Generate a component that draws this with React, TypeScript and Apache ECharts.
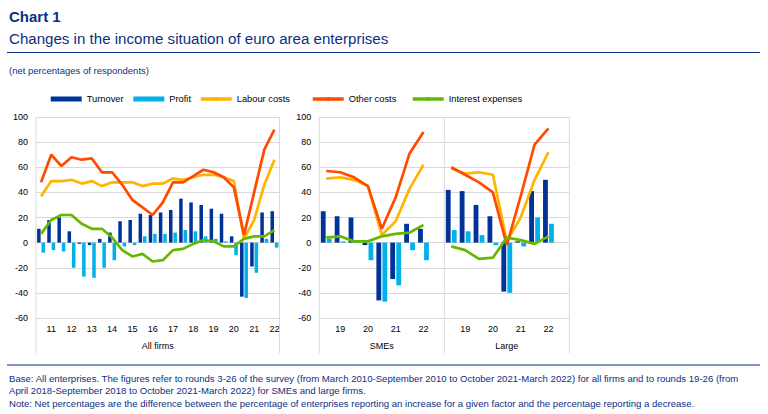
import React, { useEffect, useRef } from 'react';
import * as echarts from 'echarts';

// ---------- data ----------
const seriesNames = ['Turnover', 'Profit', 'Labour costs', 'Other costs', 'Interest expenses'];

// All firms: rounds 3-26
const allFirmsTicks = ['', '11', '', '12', '', '13', '', '14', '', '15', '', '16', '', '17', '', '18', '', '19', '', '20', '', '21', '', '22'];
const allTurnover = [11, 18, 20, 9, -1, -2, 3, 8, 17, 18, 23, 22, 24, 26, 35, 32, 30, 27, 23, 5, -43, -19, 24, 25];
const allProfit = [-8, -6, -7, -20, -27, -28, -20, -14, -3, -2, 5, 7, 7, 8, 10, 9, 5, 3, 1, -10, -44, -24, 3, -4];
const allLabour = [37, 49, 49, 50, 47, 49, 45, 48, 48, 48, 45, 47, 47, 51, 50, 52, 54, 54, 52, 49, 3, 18, 46, 66];
const allOther = [48, 70, 61, 68, 66, 67, 56, 56, 46, 34, 28, 22, 32, 48, 48, 53, 58, 56, 52, 44, 6, 40, 74, 90];
const allInterest = [7, 18, 22, 22, 15, 11, 11, 4, -6, -11, -9, -15, -14, -6, -5, -1, 2, 1, -3, -3, 3, 5, 5, 10];

// SMEs: rounds 19-26 (plus one empty slot)
const smeTicks = ['', '19', '', '20', '', '21', '', '22', ''];
const smeTurnover = [25, 21, 20, -2, -46, -29, 15, 11];
const smeProfit = [3, 1, 1, -14, -47, -34, -6, -14];
const smeLabour = [51, 52, 50, 45, 6, 17, 43, 62];
const smeOther = [57, 56, 52, 45, 11, 36, 71, 88];
const smeInterest = [4, 5, 1, 1, 5, 7, 8, 14];

// Large firms: rounds 19-26 (plus one empty slot)
const largeTicks = ['', '19', '', '20', '', '21', '', '22', ''];
const largeTurnover = [42, 41, 30, 21, -39, 1, 41, 50];
const largeProfit = [10, 9, 6, -2, -40, -3, 20, 15];
const largeLabour = [59, 55, 56, 54, 1, 20, 50, 72];
const largeOther = [60, 54, 48, 40, -2, 37, 78, 91];
const largeInterest = [-3, -6, -13, -12, 4, 2, -1, 5];

const panelNames = ['All firms', 'SMEs', 'Large'];
const yTicks = { min: -60, max: 100, interval: 20 };

// ---------- style ----------
const COLORS: Record<string, string> = {
  Turnover: '#003299',
  Profit: '#00b1ea',
  'Labour costs': '#ffb400',
  'Other costs': '#ff4b00',
  'Interest expenses': '#65b800',
};
const NAVY = '#0c2f82';
const GRID_COLOR = '#d9d9d9';
const FONT = '"Liberation Sans", Arial, sans-serif';

const PLOT_TOP = 117;
const PLOT_H = 201;
const panels = [
  { left: 36, width: 243.5 },
  { left: 319.3, width: 125 },
  { left: 444.3, width: 125 },
];

export default function App() {
  const ref = useRef<HTMLDivElement>(null);

  useEffect(() => {
    const chart = echarts.init(ref.current!, null, { renderer: 'svg' });

    const ticks = [allFirmsTicks, smeTicks, largeTicks];
    const data = [
      [allTurnover, allProfit, allLabour, allOther, allInterest],
      [smeTurnover, smeProfit, smeLabour, smeOther, smeInterest],
      [largeTurnover, largeProfit, largeLabour, largeOther, largeInterest],
    ];

    const grid = panels.map((p) => ({ left: p.left, top: PLOT_TOP, width: p.width, height: PLOT_H, containLabel: false }));

    const xAxis = panels.map((_, i) => ({
      type: 'category',
      gridIndex: i,
      data: ticks[i],
      name: panelNames[i],
      nameLocation: 'middle',
      nameGap: 23,
      nameTextStyle: { fontSize: 9, color: '#000', fontFamily: FONT },
      axisLine: { show: false, onZero: false },
      axisTick: { show: false },
      axisLabel: { interval: 0, fontSize: 9, color: '#000', margin: 6, fontFamily: FONT },
      splitLine: { show: false },
    }));

    const yAxis = panels.map((_, i) => ({
      type: 'value',
      gridIndex: i,
      min: yTicks.min,
      max: yTicks.max,
      interval: yTicks.interval,
      axisLine: { show: false },
      axisTick: { show: false },
      axisLabel: { show: i < 2, fontSize: 9, color: '#000', margin: 8, fontFamily: FONT },
      splitLine: { show: true, lineStyle: { color: GRID_COLOR, width: 1 } },
    }));

    const series: any[] = [];
    data.forEach((set, gi) => {
      set.forEach((values, si) => {
        const name = seriesNames[si];
        if (si < 2) {
          series.push({
            type: 'bar',
            name,
            xAxisIndex: gi,
            yAxisIndex: gi,
            data: values,
            itemStyle: { color: COLORS[name] },
            barCategoryGap: '22%',
            barGap: '25%',
            z: 2,
          });
        } else {
          series.push({
            type: 'line',
            name,
            xAxisIndex: gi,
            yAxisIndex: gi,
            data: values,
            symbol: 'none',
            lineStyle: { color: COLORS[name], width: 2.7 },
            itemStyle: { color: COLORS[name] },
            z: 3 + si,
          });
        }
      });
    });

    const legendPos = [50.7, 133.3, 199, 311, 411];
    const legend = seriesNames.map((name, i) => ({
      data: [name],
      left: legendPos[i],
      top: 94.5,
      padding: 0,
      itemWidth: 31,
      itemHeight: 5,
      icon: i < 2 ? 'rect' : undefined,
      lineStyle: { width: 3.5 },
      textStyle: { fontSize: 9.3, color: '#000', fontFamily: FONT },
      selectedMode: false,
    }));

    const vLines = [36, 279.5, 319.3, 444.3, 569.3].map((x) => ({
      type: 'line',
      shape: { x1: x, y1: PLOT_TOP, x2: x, y2: 353 },
      style: { stroke: GRID_COLOR, lineWidth: 1 },
      silent: true,
    }));

    const footer = [
      'Base: All enterprises. The figures refer to rounds 3-26 of the survey (from March 2010-September 2010 to October 2021-March 2022) for all firms and to rounds 19-26 (from',
      'April 2018-September 2018 to October 2021-March 2022) for SMEs and large firms.',
      'Note: Net percentages are the difference between the percentage of enterprises reporting an increase for a given factor and the percentage reporting a decrease.',
    ];

    const graphic: any[] = [
      { type: 'text', x: 9, y: 16, style: { text: 'Chart 1', fill: NAVY, fontSize: 15, fontWeight: 'bold', fontFamily: FONT, verticalAlign: 'middle' } },
      { type: 'text', x: 9, y: 38.5, style: { text: 'Changes in the income situation of euro area enterprises', fill: NAVY, fontSize: 15.1, fontFamily: FONT, verticalAlign: 'middle' } },
      { type: 'line', shape: { x1: 7, y1: 52.5, x2: 760, y2: 52.5 }, style: { stroke: NAVY, lineWidth: 1 } },
      { type: 'text', x: 9, y: 70, style: { text: '(net percentages of respondents)', fill: NAVY, fontSize: 9.5, fontFamily: FONT, verticalAlign: 'middle' } },
      ...vLines,
      { type: 'line', shape: { x1: 7, y1: 365, x2: 760, y2: 365 }, style: { stroke: NAVY, lineWidth: 1 } },
      ...footer.map((t, i) => ({
        type: 'text',
        x: 9,
        y: 378 + i * 12.5,
        style: { text: t, fill: NAVY, fontSize: 9.6, fontFamily: FONT, verticalAlign: 'middle' },
      })),
    ];

    chart.setOption({
      animation: false,
      backgroundColor: '#fff',
      grid,
      xAxis,
      yAxis,
      legend,
      series,
      graphic,
    });

    return () => chart.dispose();
  }, []);

  return (
    <div
      ref={ref}
      style={{ position: 'absolute', left: 0, top: 0, width: 768, height: 414, background: '#fff' }}
    />
  );
}
